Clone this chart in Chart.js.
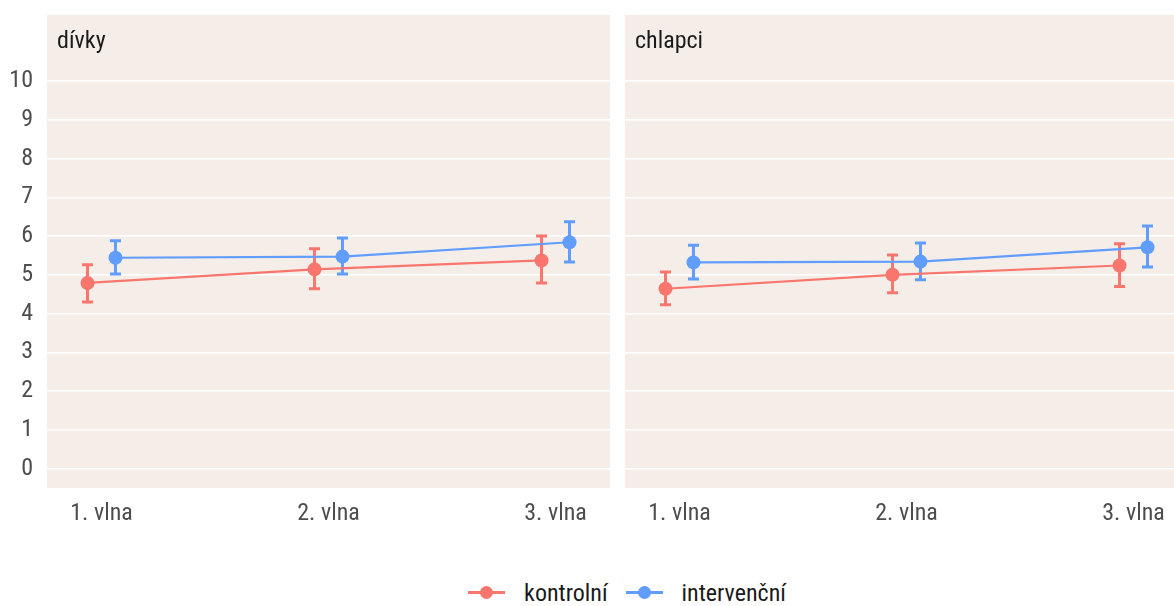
<!DOCTYPE html>
<html>
<head>
<meta charset="utf-8">
<script src="https://cdn.jsdelivr.net/npm/chart.js@4"></script>
<style>
  html, body { margin:0; padding:0; background:#ffffff; overflow:hidden; }
  body { width:1174px; height:606px; position:relative; }
  canvas { position:absolute; top:0; }
  #legend { position:absolute; top:577px; left:9px; width:1254px; display:flex; justify-content:center; align-items:center;
            font-family:'Roboto Condensed','Liberation Sans Narrow','DejaVu Sans Condensed',Roboto,sans-serif; font-size:24px; color:#1a1a1a; }
  .key { position:relative; width:37px; height:32px; margin-right:19px; }
  .key .ln { position:absolute; left:0; right:0; top:14px; height:3px; }
  .key .pt { position:absolute; left:12px; top:9px; width:13px; height:13px; border-radius:50%; }
  .lab { margin-right:18px; }
</style>
</head>
<body>
<canvas id="c1" width="610" height="540" style="left:0px"></canvas>
<canvas id="c2" width="563" height="540" style="left:625px"></canvas>
<div id="legend"></div>
<script>
// ---- data ----
const categories = ['1. vlna', '2. vlna', '3. vlna'];
const panels = ['dívky', 'chlapci'];
const groups = ['kontrolní', 'intervenční'];
const yTicks = [0, 1, 2, 3, 4, 5, 6, 7, 8, 9, 10];

const girlsControl   = [4.79, 5.14, 5.37];
const girlsControlLo = [4.30, 4.64, 4.79];
const girlsControlHi = [5.26, 5.67, 6.00];
const girlsInterv    = [5.44, 5.47, 5.84];
const girlsIntervLo  = [5.02, 5.02, 5.33];
const girlsIntervHi  = [5.88, 5.95, 6.37];

const boysControl    = [4.64, 5.00, 5.24];
const boysControlLo  = [4.23, 4.54, 4.70];
const boysControlHi  = [5.07, 5.51, 5.80];
const boysInterv     = [5.32, 5.34, 5.71];
const boysIntervLo   = [4.89, 4.87, 5.20];
const boysIntervHi   = [5.76, 5.82, 6.26];

// ---- style ----
const colors = ['#F8766D', '#619CFF'];
const dodge = [-0.0616, 0.0616];
const FONT = "'Roboto Condensed','Liberation Sans Narrow','DejaVu Sans Condensed',Roboto,sans-serif";
const PANEL_BG = '#F5EEE8';

function ds(idx, vals, lo, hi) {
  return {
    label: groups[idx],
    data: vals.map((v, i) => ({ x: i + 1 + dodge[idx], y: v, lo: lo[i], hi: hi[i] })),
    borderColor: colors[idx],
    backgroundColor: colors[idx],
    pointBackgroundColor: colors[idx],
    pointBorderColor: colors[idx],
    borderWidth: 2.2,
    pointRadius: 7,
    pointBorderWidth: 0,
    tension: 0,
    showLine: true
  };
}

const panelPlugin = {
  id: 'panel',
  beforeDraw(chart, args, opts) {
    const { ctx, chartArea } = chart;
    ctx.save();
    ctx.fillStyle = PANEL_BG;
    ctx.fillRect(chartArea.left, 15, chartArea.right - chartArea.left, chartArea.bottom - 15);
    ctx.fillStyle = '#1a1a1a';
    ctx.font = '24px ' + FONT;
    ctx.textBaseline = 'middle';
    ctx.textAlign = 'left';
    ctx.fillText(opts.title, chartArea.left + 10, 42);
    ctx.restore();
  },
  beforeDatasetsDraw(chart) {
    const { ctx } = chart;
    const xs = chart.scales.x, ys = chart.scales.y;
    ctx.save();
    chart.data.datasets.forEach(d => {
      ctx.strokeStyle = d.borderColor;
      ctx.lineWidth = 3;
      d.data.forEach(p => {
        const x = xs.getPixelForValue(p.x);
        const y1 = ys.getPixelForValue(p.lo), y2 = ys.getPixelForValue(p.hi);
        ctx.beginPath();
        ctx.moveTo(x, y1); ctx.lineTo(x, y2);
        ctx.moveTo(x - 5.5, y1); ctx.lineTo(x + 5.5, y1);
        ctx.moveTo(x - 5.5, y2); ctx.lineTo(x + 5.5, y2);
        ctx.stroke();
      });
    });
    ctx.restore();
  }
};

function makeChart(id, title, datasets, showY) {
  return new Chart(document.getElementById(id), {
    type: 'scatter',
    data: { datasets },
    plugins: [panelPlugin],
    options: {
      responsive: false,
      devicePixelRatio: 1,
      animation: false,
      layout: { autoPadding: false, padding: { top: 61.6, bottom: 0, left: 0, right: 0 } },
      plugins: {
        legend: { display: false },
        tooltip: { enabled: false },
        panel: { title }
      },
      scales: {
        x: {
          type: 'linear',
          min: 0.76, max: 3.24,
          afterBuildTicks: s => { s.ticks = categories.map((c, i) => ({ value: i + 1 })); },
          afterFit: s => { s.height = 52; },
          grid: { display: false, drawTicks: false },
          border: { display: false },
          ticks: {
            padding: 12,
            color: '#4D4D4D',
            font: { family: FONT, size: 24 },
            callback: v => categories[Math.round(v) - 1]
          }
        },
        y: {
          display: showY ? true : 'auto',
          min: -0.5, max: 10.5,
          afterBuildTicks: s => { s.ticks = yTicks.map(v => ({ value: v })); },
          afterFit: s => { s.width = showY ? 47 : 0; },
          grid: { color: '#FFFFFF', lineWidth: 1.5, drawTicks: false },
          border: { display: false },
          ticks: {
            display: showY,
            padding: 14,
            color: '#4D4D4D',
            font: { family: FONT, size: 24 }
          }
        }
      }
    }
  });
}

makeChart('c1', panels[0], [
  ds(0, girlsControl, girlsControlLo, girlsControlHi),
  ds(1, girlsInterv, girlsIntervLo, girlsIntervHi)
], true);
makeChart('c2', panels[1], [
  ds(0, boysControl, boysControlLo, boysControlHi),
  ds(1, boysInterv, boysIntervLo, boysIntervHi)
], false);

// legend built from the group names and colours
const leg = document.getElementById('legend');
groups.forEach((g, i) => {
  const k = document.createElement('div'); k.className = 'key';
  k.innerHTML = '<div class="ln" style="background:' + colors[i] + '"></div><div class="pt" style="background:' + colors[i] + '"></div>';
  const l = document.createElement('div'); l.className = 'lab'; l.textContent = g;
  leg.appendChild(k); leg.appendChild(l);
});
</script>
</body>
</html>
